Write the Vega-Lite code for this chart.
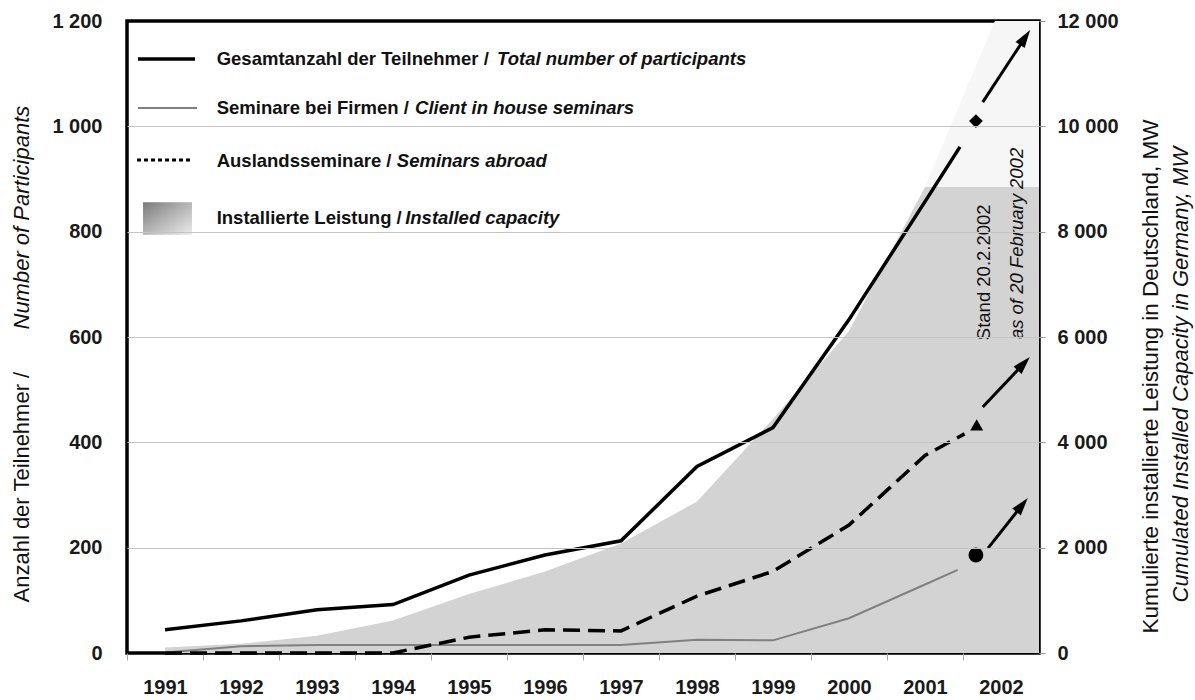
{
  "$schema": "https://vega.github.io/schema/vega-lite/v6.json",
  "width": 912,
  "height": 632,
  "autosize": {"type": "none"},
  "padding": {"left": 127, "top": 21, "right": 156, "bottom": 47},
  "background": "white",
  "config": {"view": {"stroke": "#000", "strokeWidth": 3.5}, "font": "Liberation Sans"},
  "datasets": {
    "lines": [
      {"series": "total", "year": 1991, "value": 44},
      {"series": "total", "year": 1992, "value": 61},
      {"series": "total", "year": 1993, "value": 82},
      {"series": "total", "year": 1994, "value": 92},
      {"series": "total", "year": 1995, "value": 148},
      {"series": "total", "year": 1996, "value": 186},
      {"series": "total", "year": 1997, "value": 213},
      {"series": "total", "year": 1998, "value": 354},
      {"series": "total", "year": 1999, "value": 428},
      {"series": "total", "year": 2000, "value": 633},
      {"series": "total", "year": 2001, "value": 857},
      {"series": "total", "year": 2001.46, "value": 961},
      {"series": "client", "year": 1991, "value": 1},
      {"series": "client", "year": 1992, "value": 13},
      {"series": "client", "year": 1993, "value": 15},
      {"series": "client", "year": 1994, "value": 15},
      {"series": "client", "year": 1995, "value": 15},
      {"series": "client", "year": 1996, "value": 15},
      {"series": "client", "year": 1997, "value": 15},
      {"series": "client", "year": 1998, "value": 25},
      {"series": "client", "year": 1999, "value": 24},
      {"series": "client", "year": 2000, "value": 66},
      {"series": "client", "year": 2001, "value": 130},
      {"series": "client", "year": 2001.43, "value": 158},
      {"series": "abroad", "year": 1991, "value": 0},
      {"series": "abroad", "year": 1992, "value": 0},
      {"series": "abroad", "year": 1993, "value": 0},
      {"series": "abroad", "year": 1994, "value": 0},
      {"series": "abroad", "year": 1995, "value": 30},
      {"series": "abroad", "year": 1996, "value": 44},
      {"series": "abroad", "year": 1997, "value": 42},
      {"series": "abroad", "year": 1998, "value": 108},
      {"series": "abroad", "year": 1999, "value": 155},
      {"series": "abroad", "year": 2000, "value": 243},
      {"series": "abroad", "year": 2001, "value": 375},
      {"series": "abroad", "year": 2001.52, "value": 416}
    ],
    "capacity": [
      {"year": 1991, "mw": 106},
      {"year": 1992, "mw": 174},
      {"year": 1993, "mw": 326},
      {"year": 1994, "mw": 618},
      {"year": 1995, "mw": 1121},
      {"year": 1996, "mw": 1546},
      {"year": 1997, "mw": 2080},
      {"year": 1998, "mw": 2875},
      {"year": 1999, "mw": 4442},
      {"year": 2000, "mw": 6113},
      {"year": 2001, "mw": 8850},
      {"year": 2002.5, "mw": 8850}
    ],
    "forecast": [
      {"year": 2001, "mw": 8850},
      {"year": 2001.92, "mw": 12000},
      {"year": 2002.5, "mw": 12000}
    ],
    "markers": [
      {"series": "total", "year": 2001.67, "value": 1010},
      {"series": "abroad", "year": 2001.68, "value": 433},
      {"series": "client", "year": 2001.67, "value": 186}
    ],
    "arrows": [
      {"series": "total", "year": 2001.76, "value": 1046, "year2": 2002.31, "value2": 1167},
      {"series": "abroad", "year": 2001.76, "value": 467, "year2": 2002.29, "value2": 548},
      {"series": "client", "year": 2001.83, "value": 199, "year2": 2002.27, "value2": 279.5}
    ],
    "legendText": [
      {"part": "de", "text": "Gesamtanzahl der Teilnehmer /", "year": 1991.68, "value": 1128},
      {"part": "en", "text": "Total number of participants", "year": 1995.37, "value": 1128},
      {"part": "de", "text": "Seminare bei Firmen /", "year": 1991.68, "value": 1035},
      {"part": "en", "text": "Client in house seminars", "year": 1994.29, "value": 1035},
      {"part": "de", "text": "Auslandsseminare /", "year": 1991.68, "value": 934},
      {"part": "en", "text": "Seminars abroad", "year": 1994.05, "value": 934},
      {"part": "de", "text": "Installierte Leistung /", "year": 1991.68, "value": 826},
      {"part": "en", "text": "Installed capacity", "year": 1994.16, "value": 826}
    ],
    "legendLines": [
      {"item": "total", "year": 1990.645, "year2": 1991.395, "value": 1128},
      {"item": "client", "year": 1990.645, "year2": 1991.421, "value": 1035},
      {"item": "abroad", "year": 1990.632, "year2": 1991.355, "value": 936}
    ],
    "legendSwatch": [
      {"year": 1990.711, "year2": 1991.355, "value": 856, "value2": 794}
    ],
    "notes": [
      {"style": "normal", "text": "Stand 20.2.2002", "year": 2001.77, "value": 594},
      {"style": "italic", "text": "as of 20 February 2002", "year": 2002.21, "value": 596}
    ],
    "axisHelper": [
      {"year": 2000, "value": 0}
    ]
  },
  "encoding": {
    "x": {
      "field": "year",
      "type": "quantitative",
      "scale": {"domain": [1990.5, 2002.5], "nice": false, "zero": false},
      "axis": {
        "values": [1990.5, 1991.5, 1992.5, 1993.5, 1994.5, 1995.5, 1996.5, 1997.5, 1998.5, 1999.5, 2000.5, 2001.5],
        "labelExpr": "format(datum.value + 0.5, 'd')",
        "labelOffset": 38,
        "tickSize": 7,
        "tickColor": "#aaaaaa",
        "domain": false,
        "grid": false,
        "labelFont": "Liberation Sans",
        "labelFontSize": 20,
        "labelFontWeight": "bold",
        "labelColor": "#1a1a1a",
        "labelPadding": 17,
        "labelFlush": false,
        "labelOverlap": false,
        "labelBound": false,
        "title": null
      }
    }
  },
  "layer": [
    {
      "encoding": {
        "y": {
          "field": "mw",
          "type": "quantitative",
          "scale": {"domain": [0, 12000], "nice": false, "zero": true},
          "axis": {
            "orient": "right",
            "values": [0, 2000, 4000, 6000, 8000, 10000, 12000],
            "labelExpr": "replace(format(datum.value, ','), ',', ' ')",
            "tickSize": 6,
            "tickColor": "#999999",
            "domain": false,
            "grid": false,
            "labelPadding": 12,
            "labelFont": "Liberation Sans",
            "labelFontSize": 20,
            "labelFontWeight": "bold",
            "labelColor": "#1a1a1a",
            "labelOverlap": false,
            "labelBound": false,
            "labelFlush": false,
            "title": "Kumulierte installierte Leistung in Deutschland, MW",
            "titleFont": "Liberation Sans",
            "titleFontSize": 22.5,
            "titleFontWeight": "normal",
            "titleColor": "#111111",
            "titleAngle": 270,
            "titleAlign": "left",
            "titleBaseline": "middle",
            "titleX": 111,
            "titleY": 612
          }
        }
      },
      "layer": [
        {
          "data": {"name": "forecast"},
          "mark": {"type": "area", "color": "#f6f6f6", "clip": true}
        },
        {
          "data": {"name": "capacity"},
          "mark": {"type": "area", "color": "#d3d3d3", "clip": true}
        }
      ]
    },
    {
      "encoding": {
        "y": {
          "field": "value",
          "type": "quantitative",
          "scale": {"domain": [0, 1200], "nice": false, "zero": true},
          "axis": {
            "orient": "left",
            "values": [0, 200, 400, 600, 800, 1000, 1200],
            "labelExpr": "replace(format(datum.value, ','), ',', ' ')",
            "ticks": false,
            "domain": false,
            "grid": false,
            "labelPadding": 25,
            "labelFont": "Liberation Sans",
            "labelFontSize": 20,
            "labelFontWeight": "bold",
            "labelColor": "#1a1a1a",
            "labelOverlap": false,
            "labelBound": false,
            "labelFlush": false,
            "title": "Anzahl der Teilnehmer /",
            "titleFont": "Liberation Sans",
            "titleFontSize": 22,
            "titleFontWeight": "normal",
            "titleColor": "#111111",
            "titleAngle": 270,
            "titleAlign": "left",
            "titleBaseline": "middle",
            "titleX": -106,
            "titleY": 581
          }
        }
      },
      "layer": [
        {
          "data": {"name": "lines"},
          "transform": [{"filter": "datum.series === 'client'"}],
          "mark": {"type": "line", "color": "#808080", "strokeWidth": 2}
        },
        {
          "data": {"name": "lines"},
          "transform": [{"filter": "datum.series === 'abroad'"}],
          "mark": {"type": "line", "color": "#000000", "strokeWidth": 3.5, "strokeDash": [17, 8]}
        },
        {
          "data": {"name": "lines"},
          "transform": [{"filter": "datum.series === 'total'"}],
          "mark": {"type": "line", "color": "#000000", "strokeWidth": 3.5}
        },
        {
          "data": {"name": "markers"},
          "transform": [{"filter": "datum.series === 'total'"}],
          "mark": {"type": "point", "shape": "diamond", "filled": true, "color": "#000000", "size": 190, "opacity": 1}
        },
        {
          "data": {"name": "markers"},
          "transform": [{"filter": "datum.series === 'abroad'"}],
          "mark": {"type": "point", "shape": "triangle-up", "filled": true, "color": "#000000", "size": 170, "opacity": 1}
        },
        {
          "data": {"name": "markers"},
          "transform": [{"filter": "datum.series === 'client'"}],
          "mark": {"type": "point", "shape": "circle", "filled": true, "color": "#000000", "size": 220, "opacity": 1}
        },
        {
          "data": {"name": "arrows"},
          "mark": {"type": "rule", "color": "#000000", "strokeWidth": 3},
          "encoding": {
            "x2": {"field": "year2"},
            "y2": {"field": "value2"}
          }
        },
        {
          "data": {"name": "arrows"},
          "transform": [{"filter": "datum.series === 'total'"}],
          "mark": {"type": "point", "shape": "M0,-1L0.55,0.8L-0.55,0.8Z", "angle": 34, "filled": true, "color": "#000000", "size": 400, "opacity": 1},
          "encoding": {"x": {"field": "year2"}, "y": {"field": "value2"}}
        },
        {
          "data": {"name": "arrows"},
          "transform": [{"filter": "datum.series === 'abroad'"}],
          "mark": {"type": "point", "shape": "M0,-1L0.55,0.8L-0.55,0.8Z", "angle": 43, "filled": true, "color": "#000000", "size": 400, "opacity": 1},
          "encoding": {"x": {"field": "year2"}, "y": {"field": "value2"}}
        },
        {
          "data": {"name": "arrows"},
          "transform": [{"filter": "datum.series === 'client'"}],
          "mark": {"type": "point", "shape": "M0,-1L0.55,0.8L-0.55,0.8Z", "angle": 39, "filled": true, "color": "#000000", "size": 400, "opacity": 1},
          "encoding": {"x": {"field": "year2"}, "y": {"field": "value2"}}
        },
        {
          "data": {"name": "legendLines"},
          "transform": [{"filter": "datum.item === 'total'"}],
          "mark": {"type": "rule", "color": "#000000", "strokeWidth": 3.5},
          "encoding": {"x2": {"field": "year2"}}
        },
        {
          "data": {"name": "legendLines"},
          "transform": [{"filter": "datum.item === 'client'"}],
          "mark": {"type": "rule", "color": "#808080", "strokeWidth": 2},
          "encoding": {"x2": {"field": "year2"}}
        },
        {
          "data": {"name": "legendLines"},
          "transform": [{"filter": "datum.item === 'abroad'"}],
          "mark": {"type": "rule", "color": "#000000", "strokeWidth": 3, "strokeDash": [4, 3]},
          "encoding": {"x2": {"field": "year2"}}
        },
        {
          "data": {"name": "legendSwatch"},
          "mark": {
            "type": "rect",
            "color": {
              "gradient": "linear",
              "x1": 0, "y1": 0, "x2": 1, "y2": 1,
              "stops": [
                {"offset": 0, "color": "#7a7a7a"},
                {"offset": 0.5, "color": "#b5b5b5"},
                {"offset": 1, "color": "#ececec"}
              ]
            }
          },
          "encoding": {"x2": {"field": "year2"}, "y2": {"field": "value2"}}
        },
        {
          "data": {"name": "legendText"},
          "transform": [{"filter": "datum.part === 'de'"}],
          "mark": {"type": "text", "align": "left", "baseline": "middle", "font": "Liberation Sans", "fontSize": 18.5, "fontWeight": "bold", "color": "#111111"},
          "encoding": {"text": {"field": "text"}}
        },
        {
          "data": {"name": "legendText"},
          "transform": [{"filter": "datum.part === 'en'"}],
          "mark": {"type": "text", "align": "left", "baseline": "middle", "font": "Liberation Sans", "fontSize": 18.5, "fontWeight": "bold", "fontStyle": "italic", "color": "#111111"},
          "encoding": {"text": {"field": "text"}}
        },
        {
          "data": {"name": "notes"},
          "transform": [{"filter": "datum.style === 'normal'"}],
          "mark": {"type": "text", "angle": 270, "align": "left", "baseline": "middle", "font": "Liberation Sans", "fontSize": 18.5, "color": "#111111"},
          "encoding": {"text": {"field": "text"}}
        },
        {
          "data": {"name": "notes"},
          "transform": [{"filter": "datum.style === 'italic'"}],
          "mark": {"type": "text", "angle": 270, "align": "left", "baseline": "middle", "font": "Liberation Sans", "fontSize": 18.5, "fontStyle": "italic", "color": "#111111"},
          "encoding": {"text": {"field": "text"}}
        }
      ]
    },
    {
      "data": {"name": "axisHelper"},
      "mark": {"type": "point", "opacity": 0},
      "encoding": {
        "y": {
          "field": "value",
          "type": "quantitative",
          "scale": {"domain": [0, 1200], "nice": false, "zero": true},
          "axis": {
            "orient": "left",
            "values": [200, 400, 600, 800, 1000],
            "labels": false,
            "ticks": false,
            "domain": false,
            "grid": true,
            "gridColor": "#c4c4c4",
            "gridWidth": 1,
            "zindex": 1,
            "title": "Number of Participants",
            "titleFont": "Liberation Sans",
            "titleFontSize": 22,
            "titleFontWeight": "normal",
            "titleFontStyle": "italic",
            "titleColor": "#111111",
            "titleAngle": 270,
            "titleAlign": "left",
            "titleBaseline": "middle",
            "titleX": -106,
            "titleY": 308
          }
        }
      }
    },
    {
      "data": {"name": "axisHelper"},
      "mark": {"type": "point", "opacity": 0},
      "encoding": {
        "y": {
          "field": "value",
          "type": "quantitative",
          "scale": {"domain": [0, 1200], "nice": false, "zero": true},
          "axis": {
            "orient": "right",
            "labels": false,
            "ticks": false,
            "domain": false,
            "grid": false,
            "title": "Cumulated Installed Capacity in Germany, MW",
            "titleFont": "Liberation Sans",
            "titleFontSize": 22,
            "titleFontWeight": "normal",
            "titleFontStyle": "italic",
            "titleColor": "#111111",
            "titleAngle": 270,
            "titleAlign": "left",
            "titleBaseline": "middle",
            "titleX": 141,
            "titleY": 581
          }
        }
      }
    }
  ],
  "resolve": {"scale": {"y": "independent"}, "axis": {"y": "independent"}}
}
